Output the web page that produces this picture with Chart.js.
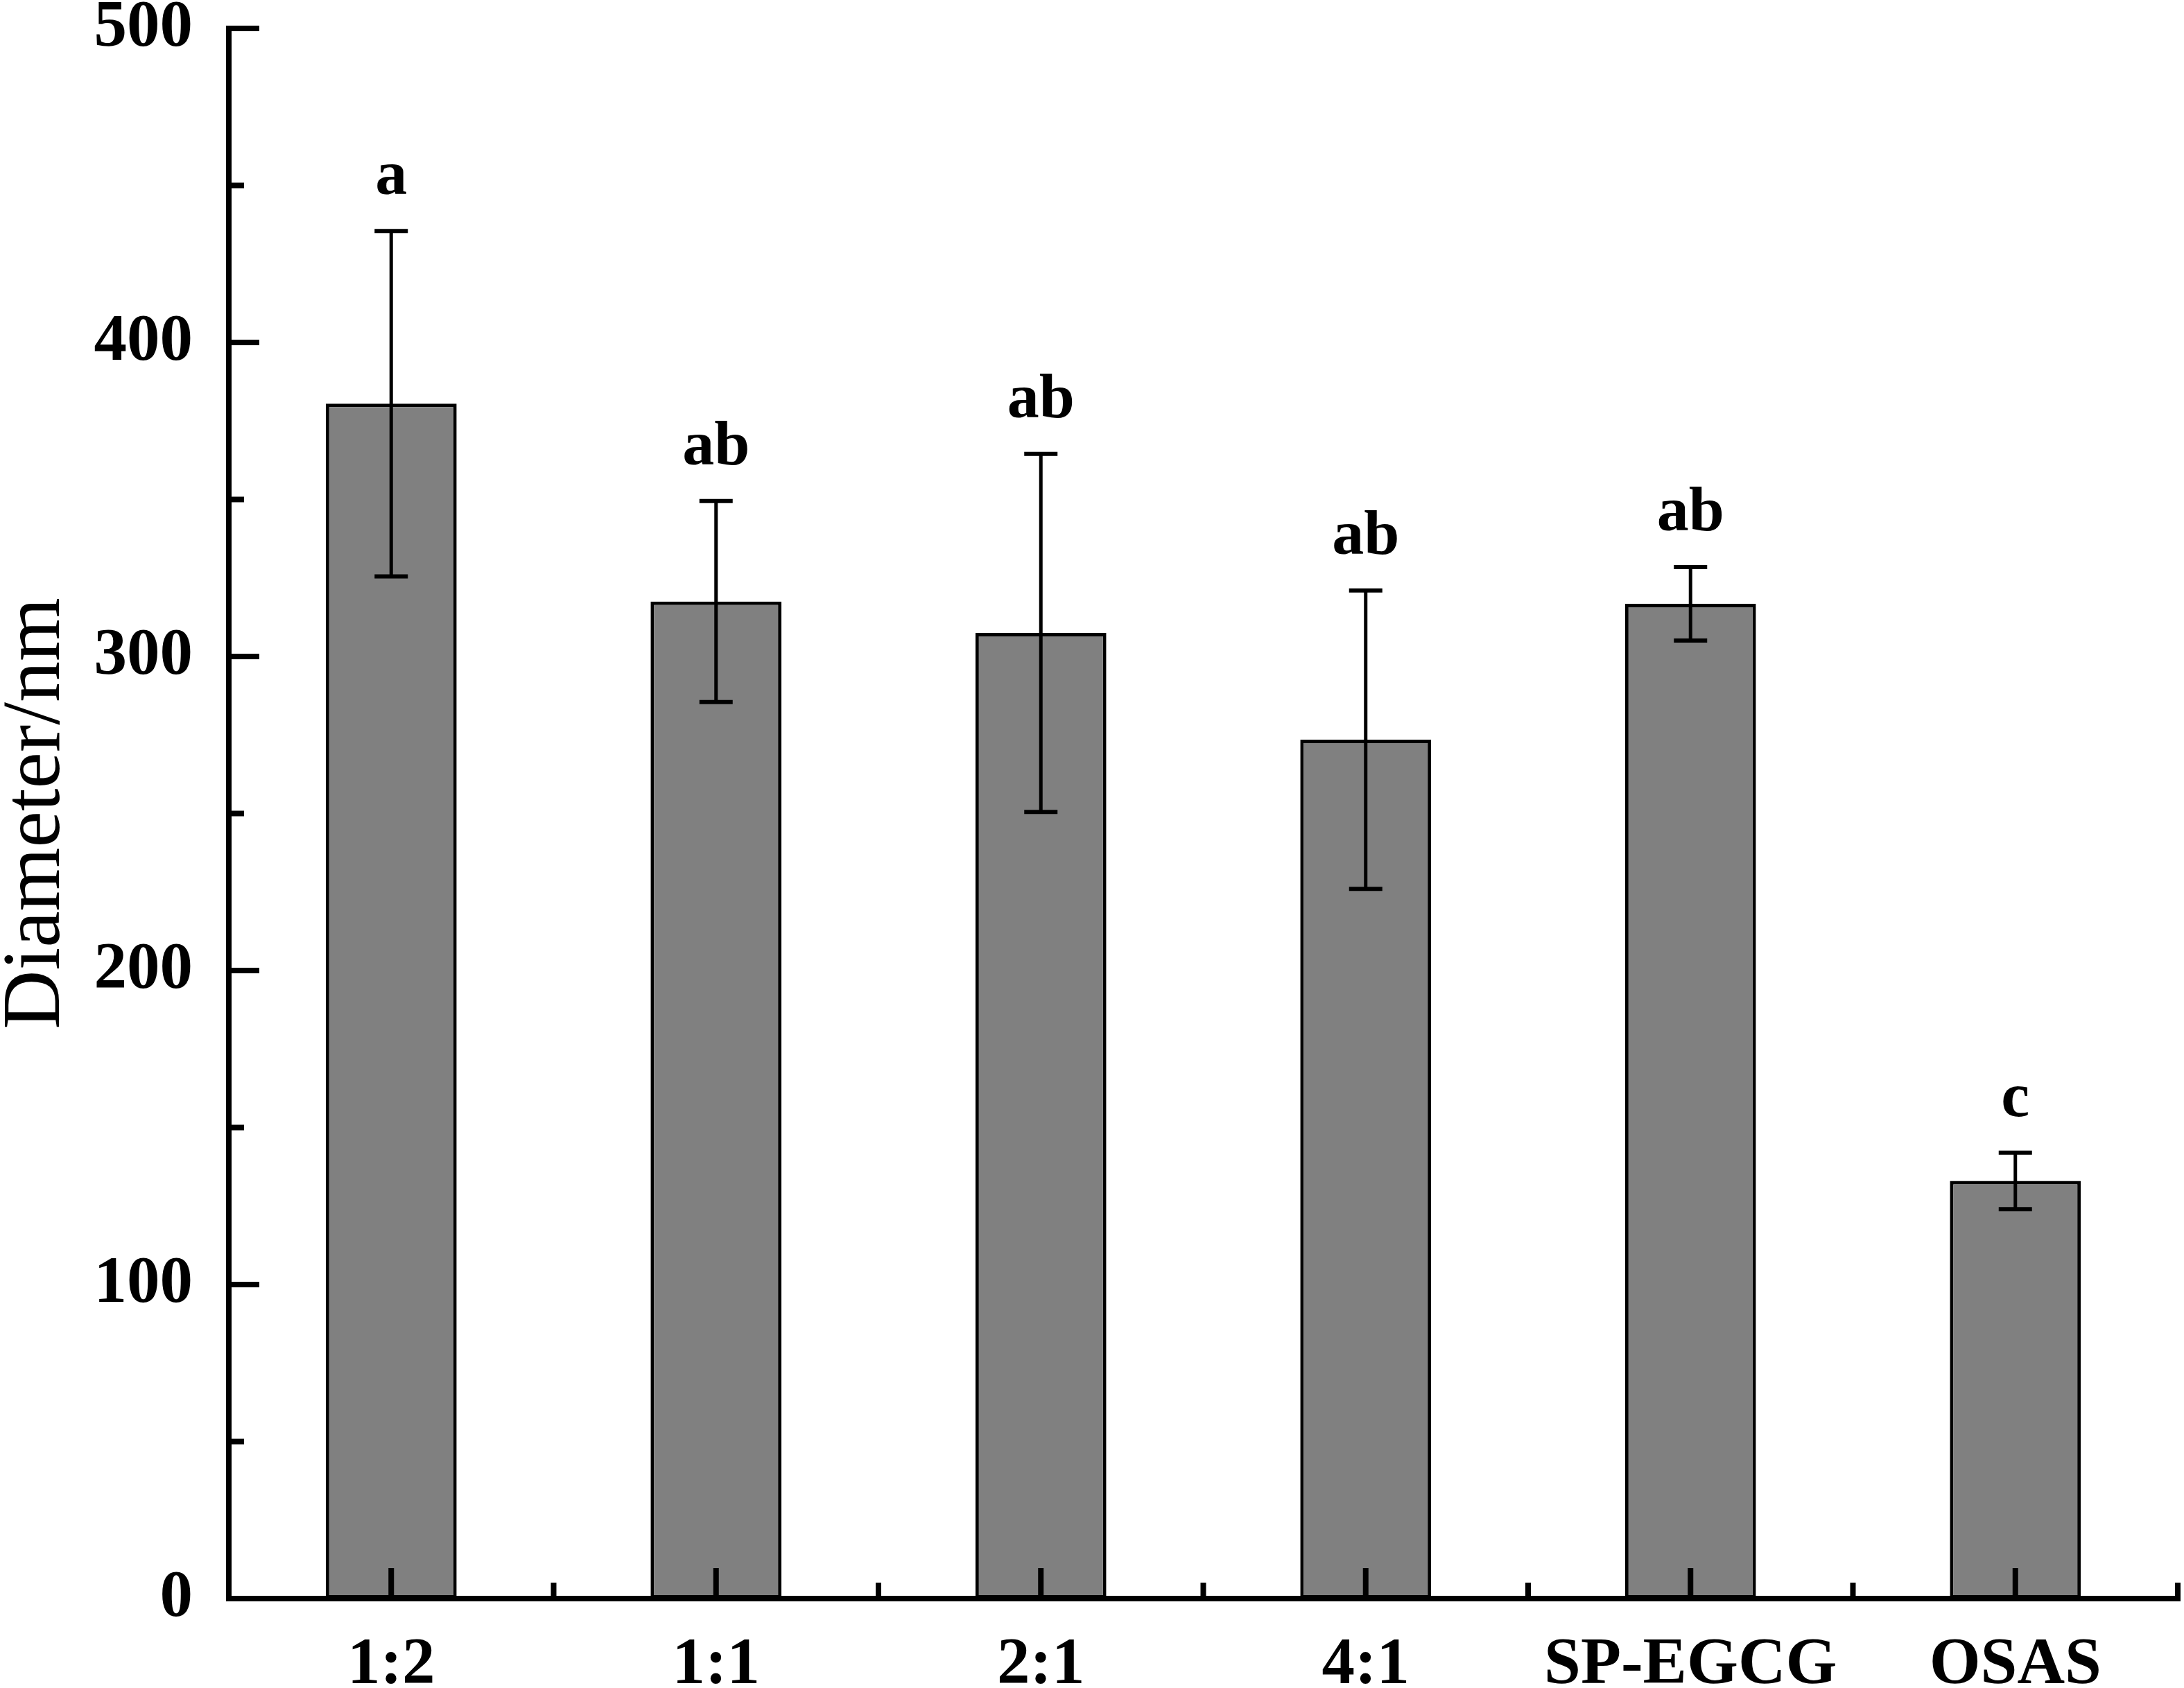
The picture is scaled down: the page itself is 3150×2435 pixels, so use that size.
<!DOCTYPE html>
<html>
<head>
<meta charset="utf-8">
<script src="https://cdn.jsdelivr.net/npm/chart.js@4.4.1/dist/chart.umd.min.js"></script>
<style>
  html, body { margin: 0; padding: 0; background: #ffffff; }
  #wrap { width: 3150px; height: 2435px; }
</style>
</head>
<body>
<div id="wrap"><canvas id="c" width="3150" height="2435"></canvas></div>
<script>
// ---- data ----
const categories = ['1:2', '1:1', '2:1', '4:1', 'SP-EGCG', 'OSAS'];
const diameters  = [380.5, 317.5, 307.5, 273.5, 316.8, 133];
const errors     = [55, 32, 57, 47.5, 11.7, 9];
const letters    = ['a', 'ab', 'ab', 'ab', 'ab', 'c'];
const yTicks     = [0, 100, 200, 300, 400, 500];
const yTitle     = 'Diameter/nm';

const SERIF = '"Liberation Serif", "Times New Roman", Times, serif';

const overlay = {
  id: 'overlay',
  afterDatasetsDraw(chart) {
    const ctx = chart.ctx;
    const xs = chart.scales.x, ys = chart.scales.y;
    const area = chart.chartArea;
    const meta = chart.getDatasetMeta(0);
    ctx.save();
    ctx.strokeStyle = '#000';
    ctx.fillStyle = '#000';
    ctx.lineCap = 'butt';

    // error bars
    meta.data.forEach((bar, i) => {
      const cx = bar.x;
      const yt = ys.getPixelForValue(diameters[i] + errors[i]);
      const yb = ys.getPixelForValue(diameters[i] - errors[i]);
      ctx.lineWidth = 5;
      ctx.beginPath();
      ctx.moveTo(cx, yt); ctx.lineTo(cx, yb);
      ctx.stroke();
      ctx.lineWidth = 6;
      ctx.beginPath();
      ctx.moveTo(cx - 24, yt); ctx.lineTo(cx + 24, yt);
      ctx.moveTo(cx - 24, yb); ctx.lineTo(cx + 24, yb);
      ctx.stroke();
      // significance letters
      ctx.font = 'bold 92px ' + SERIF;
      ctx.textAlign = 'center';
      ctx.textBaseline = 'alphabetic';
      ctx.fillText(letters[i], cx, yt - 53);
    });

    // axes lines
    ctx.lineWidth = 8;
    ctx.beginPath();
    ctx.moveTo(area.left, ys.getPixelForValue(yTicks[yTicks.length - 1]) - 4);
    ctx.lineTo(area.left, area.bottom + 4);
    ctx.moveTo(area.left - 4, area.bottom);
    ctx.lineTo(area.right + 4, area.bottom);
    ctx.stroke();

    // y ticks (inward), major + minor halfway
    for (let k = 0; k < yTicks.length; k++) {
      const py = ys.getPixelForValue(yTicks[k]);
      ctx.beginPath(); ctx.moveTo(area.left, py); ctx.lineTo(area.left + 44, py); ctx.stroke();
      if (k < yTicks.length - 1) {
        const pm = ys.getPixelForValue((yTicks[k] + yTicks[k + 1]) / 2);
        ctx.beginPath(); ctx.moveTo(area.left, pm); ctx.lineTo(area.left + 22, pm); ctx.stroke();
      }
    }
    // x ticks (inward): major at centers, minor at boundaries
    for (let i = 0; i < categories.length; i++) {
      const px = xs.getPixelForValue(i);
      ctx.beginPath(); ctx.moveTo(px, area.bottom); ctx.lineTo(px, area.bottom - 44); ctx.stroke();
      let pb;
      if (i < categories.length - 1) pb = (px + xs.getPixelForValue(i + 1)) / 2;
      else pb = area.right;
      ctx.beginPath(); ctx.moveTo(pb, area.bottom); ctx.lineTo(pb, area.bottom - 23); ctx.stroke();
    }
    ctx.restore();
  }
};

new Chart(document.getElementById('c'), {
  type: 'bar',
  data: {
    labels: categories,
    datasets: [{
      data: diameters,
      backgroundColor: '#808080',
      borderColor: '#000000',
      borderWidth: 5,
      borderSkipped: false,
      barPercentage: 0.403,
      categoryPercentage: 1.0
    }]
  },
  options: {
    responsive: false,
    animation: false,
    devicePixelRatio: 1,
    layout: { padding: { top: 41, right: 9, left: 0, bottom: 0 } },
    plugins: { legend: { display: false }, tooltip: { enabled: false } },
    scales: {
      x: {
        offset: true,
        grid: { display: false, drawTicks: false },
        border: { display: false },
        ticks: {
          color: '#000',
          padding: 40,
          maxRotation: 0,
          autoSkip: false,
          font: { family: SERIF, size: 95, weight: 'bold' }
        },
        afterFit(scale) { scale.height = 129; scale.paddingLeft = 0; scale.paddingRight = 0; }
      },
      y: {
        min: 0,
        max: 500,
        afterBuildTicks(scale) { scale.ticks = yTicks.map(v => ({ value: v })); },
        grid: { display: false, drawTicks: false },
        border: { display: false },
        ticks: {
          color: '#000',
          padding: 52,
          font: { family: SERIF, size: 95, weight: 'bold' }
        },
        title: {
          display: true,
          text: yTitle,
          color: '#000',
          padding: { top: 0, bottom: 0 },
          font: { family: SERIF, size: 118, weight: 'normal', lineHeight: 0.92 }
        },
        afterFit(scale) { scale.width = 330; scale.paddingTop = 0; scale.paddingBottom = 0; }
      }
    }
  },
  plugins: [overlay]
});
</script>
</body>
</html>
